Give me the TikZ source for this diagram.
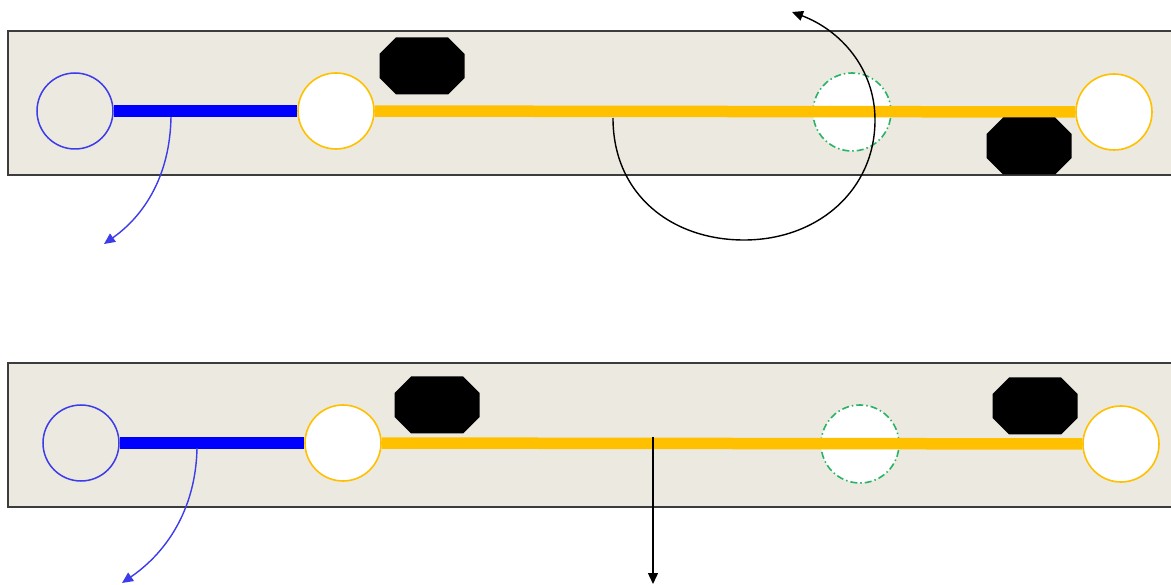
\documentclass[tikz,border=0pt]{standalone}
\usetikzlibrary{arrows.meta}
\definecolor{panelfill}{RGB}{236,233,224}
\definecolor{panelline}{RGB}{60,60,60}
\definecolor{ringblue}{RGB}{60,60,235}
\definecolor{barblue}{RGB}{0,0,255}
\definecolor{baryellow}{RGB}{255,192,0}
\definecolor{ringgreen}{RGB}{40,180,100}
\tikzset{
  panel/.style={draw=panelline,line width=1.5pt,fill=panelfill},
  bluering/.style={circle,draw=ringblue,line width=1.5pt,minimum size=76pt,inner sep=0pt},
  yellowring/.style={circle,draw=baryellow,line width=1.6pt,fill=white,minimum size=76pt,inner sep=0pt},
  greenring/.style={circle,draw=ringgreen,line width=1.6pt,fill=white,dash pattern=on 7pt off 3pt on 1.5pt off 3pt,minimum size=78pt,inner sep=0pt},
  bluebar/.style={draw=barblue,line width=12pt},
  yellowbar/.style={draw=baryellow,line width=11.5pt},
  blob/.style={fill=black},
  bluearrow/.style={draw=ringblue,line width=1.4pt,-{Triangle[length=11pt,width=10pt]}},
  blackarrow/.style={draw=black,line width=1.4pt,-{Triangle[length=11pt,width=10pt]}},
}
\newcommand{\octblob}[2]{%
  \fill[blob,shift={(#1,#2)}] (-42.5,-12) -- (-26,-28.5) -- (26,-28.5) -- (42.5,-12)
    -- (42.5,12) -- (26,28.5) -- (-26,28.5) -- (-42.5,12) -- cycle;}
\begin{document}
\begin{tikzpicture}[x=1pt,y=-1pt]
\useasboundingbox (0,0) rectangle (1171,585);
% top panel
\path[panel] (8,31) rectangle (1180,175);
\node[greenring] (g1) at (852,112) {};
\node[bluering] (b1) at (75,111) {};
\node[yellowring] (y1) at (336,111) {};
\node[yellowring] (y2) at (1114,112) {};
\draw[bluebar] (b1) -- (y1);
\draw[yellowbar] (y1) -- (y2);
\octblob{422}{66}
\octblob{1029}{146}
\coordinate (s1) at (171,117);
\coordinate (e1) at (104,244);
\draw[bluearrow] (s1) .. controls (170,175) and (145,215) .. (e1);
\coordinate (s2) at (613,118);
\coordinate (m2) at (744,240);
\coordinate (r2) at (875,120);
\coordinate (e2) at (792,12);
\draw[blackarrow] (s2) .. controls (613,195) and (672,240) .. (m2)
  .. controls (818,240) and (875,190) .. (r2)
  .. controls (875,68) and (840,30) .. (e2);
% bottom panel
\path[panel] (8,363) rectangle (1180,507);
\node[greenring] (g2) at (860,444) {};
\node[bluering] (b2) at (81,443) {};
\node[yellowring] (y3) at (343,443) {};
\node[yellowring] (y4) at (1121,444) {};
\draw[bluebar] (b2) -- (y3);
\draw[yellowbar] (y3) -- (y4);
\octblob{437}{405}
\octblob{1035}{406}
\coordinate (s3) at (197,448);
\coordinate (e3) at (122,583);
\draw[bluearrow] (s3) .. controls (196,505) and (170,550) .. (e3);
\coordinate (s4) at (653,437);
\coordinate (e4) at (653,584);
\draw[blackarrow] (s4) -- (e4);
\end{tikzpicture}
\end{document}
